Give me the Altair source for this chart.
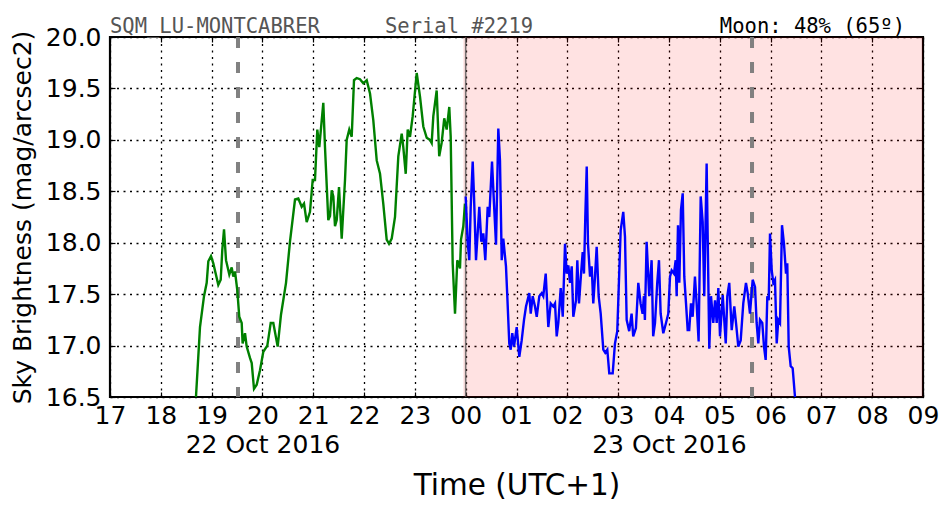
import altair as alt
import pandas as pd

# ---------------- data ----------------
GREEN_HOURS = [18.692, 18.771, 18.850, 18.903, 18.935, 18.988, 19.033, 19.131, 19.179, 19.210,
               19.244, 19.283, 19.348, 19.395, 19.426, 19.460, 19.505, 19.544, 19.592, 19.610,
               19.657, 19.690, 19.755, 19.789, 19.834, 19.887, 19.952, 20.017, 20.096, 20.163,
               20.214, 20.300, 20.365, 20.464, 20.542, 20.641, 20.706, 20.773, 20.818, 20.871,
               20.936, 20.989, 21.034, 21.080, 21.119, 21.198, 21.231, 21.296, 21.330, 21.363,
               21.395, 21.428, 21.462, 21.507, 21.560, 21.625, 21.658, 21.709, 21.757, 21.802,
               21.855, 21.920, 21.985, 22.052, 22.117, 22.182, 22.249, 22.314, 22.378, 22.445,
               22.491, 22.544, 22.609, 22.674, 22.741, 22.772, 22.820, 22.859, 22.904, 22.957,
               23.036, 23.101, 23.166, 23.233, 23.298, 23.331, 23.363, 23.429, 23.479, 23.527,
               23.578, 23.626, 23.677, 23.705, 23.744, 23.790, 23.835, 23.888, 23.908, 23.953,
               23.986]
GREEN_SKY = [16.50, 17.18, 17.48, 17.61, 17.82, 17.87, 17.80, 17.59, 17.64, 17.93,
             18.13, 17.83, 17.69, 17.76, 17.67, 17.72, 17.54, 17.28, 17.22, 17.02,
             17.12, 16.99, 16.88, 16.83, 16.58, 16.62, 16.76, 16.94, 17.00, 17.22,
             17.22, 16.99, 17.30, 17.61, 18.01, 18.42, 18.43, 18.35, 18.38, 18.20,
             18.30, 18.61, 18.61, 19.10, 18.93, 19.36, 18.93, 18.22, 18.26, 18.51,
             18.45, 18.16, 18.22, 18.54, 18.04, 18.61, 19.00, 19.10, 19.03, 19.58,
             19.60, 19.59, 19.55, 19.58, 19.45, 19.19, 18.80, 18.67, 18.38, 18.03,
             17.99, 18.04, 18.25, 18.84, 19.06, 18.93, 18.67, 19.10, 19.03, 19.23,
             19.65, 19.42, 19.13, 19.02, 19.00, 18.97, 19.23, 19.48, 18.84, 18.97,
             19.21, 19.10, 19.32, 19.03, 17.80, 17.31, 17.83, 17.75, 18.03, 18.16,
             18.38]

BLUE_HOURS = [24.000, 24.040, 24.071, 24.099, 24.138, 24.164, 24.203, 24.268, 24.307, 24.347,
              24.386, 24.433, 24.464, 24.518, 24.557, 24.597, 24.642, 24.675, 24.709, 24.740,
              24.793, 24.819, 24.858, 24.886, 24.917, 24.951, 25.004, 25.055, 25.102, 25.148,
              25.187, 25.252, 25.280, 25.319, 25.364, 25.398, 25.449, 25.496, 25.527, 25.575,
              25.626, 25.673, 25.724, 25.758, 25.791, 25.823, 25.870, 25.910, 25.955, 25.988,
              26.020, 26.053, 26.087, 26.118, 26.171, 26.197, 26.230, 26.275, 26.303, 26.328,
              26.354, 26.382, 26.407, 26.447, 26.480, 26.511, 26.545, 26.578, 26.617, 26.657,
              26.708, 26.747, 26.787, 26.826, 26.893, 26.938, 26.983, 27.050, 27.101, 27.135,
              27.168, 27.218, 27.265, 27.297, 27.350, 27.397, 27.442, 27.482, 27.507, 27.527,
              27.561, 27.612, 27.659, 27.690, 27.726, 27.770, 27.804, 27.837, 27.889, 27.942,
              27.987, 28.021, 28.054, 28.099, 28.133, 28.152, 28.178, 28.204, 28.237, 28.271,
              28.302, 28.336, 28.369, 28.399, 28.434, 28.467, 28.512, 28.545, 28.584, 28.625,
              28.664, 28.695, 28.742, 28.794, 28.828, 28.873, 28.907, 28.940, 28.972, 29.005,
              29.058, 29.118, 29.149, 29.187, 29.235, 29.286, 29.320, 29.365, 29.412, 29.463,
              29.516, 29.550, 29.595, 29.648, 29.694, 29.726, 29.759, 29.792, 29.837, 29.871,
              29.904, 29.936, 29.964, 29.989, 30.023, 30.054, 30.087, 30.121, 30.152, 30.186,
              30.225, 30.264, 30.304, 30.329, 30.357, 30.396, 30.435, 30.481]
BLUE_SKY = [18.45, 18.00, 17.83, 18.35, 18.79, 18.45, 17.83, 18.35, 18.01, 18.09,
            17.83, 18.35, 18.25, 18.79, 18.38, 17.98, 19.11, 18.80, 17.83, 18.04,
            17.77, 17.48, 17.02, 16.96, 17.12, 16.99, 17.18, 16.89, 17.05, 17.25,
            17.38, 17.51, 17.31, 17.48, 17.38, 17.28, 17.48, 17.51, 17.48, 17.70,
            17.18, 17.41, 17.38, 17.41, 17.09, 17.22, 17.56, 17.28, 17.99, 17.70,
            17.78, 17.61, 17.77, 17.28, 17.44, 17.83, 17.41, 17.73, 17.91, 17.70,
            18.25, 18.74, 17.99, 17.67, 17.77, 17.41, 17.67, 17.96, 17.48, 17.31,
            16.96, 16.93, 16.96, 16.73, 16.73, 17.02, 17.14, 18.12, 18.30, 18.06,
            17.25, 17.14, 17.31, 17.09, 17.17, 17.61, 17.41, 17.31, 17.48, 17.25,
            18.01, 17.48, 17.83, 17.09, 17.22, 17.61, 17.83, 17.31, 17.12, 17.22,
            17.31, 17.67, 17.73, 17.70, 17.83, 17.48, 18.17, 17.61, 18.32, 18.48,
            17.67, 17.41, 17.15, 17.15, 17.41, 17.28, 17.67, 17.41, 17.04, 18.45,
            18.20, 17.48, 18.77, 16.97, 17.48, 17.22, 17.44, 17.22, 17.56, 17.09,
            17.49, 17.02, 17.48, 17.61, 17.15, 17.38, 17.22, 16.99, 17.05, 17.41,
            17.61, 17.51, 17.31, 17.64, 17.57, 17.22, 17.02, 17.25, 17.22, 16.99,
            16.86, 17.48, 17.44, 18.09, 17.73, 17.61, 17.64, 17.02, 17.25, 17.22,
            18.17, 17.99, 17.70, 17.80, 16.99, 16.80, 16.78, 16.50]

X_TICKS = list(range(17, 34))
Y_TICKS = [16.5, 17.0, 17.5, 18.0, 18.5, 19.0, 19.5, 20.0]
DATE_HOURS = [20, 28]
DATE_TEXTS = ["22 Oct 2016", "23 Oct 2016"]
NIGHT_START = [23.953]
NIGHT_END = [33.0]
MIDNIGHT = [24.0]
MOON_HOURS = [19.519, 29.635]
HEADER_LEFT = ["SQM_LU-MONTCABRER"]
HEADER_MID = ["Serial #2219"]
HEADER_RIGHT = ["Moon: 48% (65º)"]
X_TITLE = "Time (UTC+1)"
Y_TITLE = "Sky Brightness (mag/arcsec2)"

# ---------------- chart ----------------
FONT = "DejaVu Sans"
MONO = "DejaVu Sans Mono"
W, H = 813, 360

green_df = pd.DataFrame({"hour": GREEN_HOURS, "sky": GREEN_SKY})
blue_df = pd.DataFrame({"hour": BLUE_HOURS, "sky": BLUE_SKY})
night_df = pd.DataFrame({"start": NIGHT_START, "end": NIGHT_END})
mid_df = pd.DataFrame({"hour": MIDNIGHT})
moon_df = pd.DataFrame({"hour": MOON_HOURS})

xscale = alt.Scale(domain=[17, 33], nice=False, zero=False)
yscale = alt.Scale(domain=[16.5, 20.0], nice=False, zero=False)

hour_lbl = "((datum.value % 24) < 10 ? '0' : '') + (datum.value % 24)"
label_expr = hour_lbl
for h, t in reversed(list(zip(DATE_HOURS, DATE_TEXTS))):
    label_expr = f"datum.value == {h} ? [{hour_lbl}, '{t}'] : ({label_expr})"

TICK = 5
bottom_axis = alt.Axis(
    orient="bottom", values=X_TICKS, labelExpr=label_expr, labelFont=FONT, labelFontSize=25,
    labelColor="black", labelPadding=6, labelLineHeight=29.5, labelOverlap=False, labelFlush=False,
    labelBound=False, offset=-TICK, tickSize=TICK, tickColor="black", tickWidth=1.2, domain=False,
    grid=True, gridColor="black", gridDash=[2, 4.5], gridWidth=1.3, gridOpacity=1,
    title=X_TITLE, titleFont=FONT, titleFontSize=29.5, titleFontWeight="normal",
    titleColor="black", titlePadding=14,
)
left_axis = alt.Axis(
    orient="left", values=Y_TICKS, format=".1f", labelFont=FONT, labelFontSize=25,
    labelColor="black", labelPadding=9, labelFlush=False, labelOverlap=False,
    offset=-TICK, tickSize=TICK, tickColor="black", tickWidth=1.2, domain=False,
    grid=True, gridColor="black", gridDash=[2, 4.5], gridWidth=1.3, gridOpacity=1,
    title=Y_TITLE, titleFont=FONT, titleFontSize=25, titleFontWeight="normal",
    titleColor="black", titlePadding=10,
)
top_axis = alt.Axis(orient="top", values=X_TICKS, labels=False, offset=-TICK, tickSize=TICK,
                    tickColor="black", tickWidth=1.2, domain=False, grid=False, title=None)
right_axis = alt.Axis(orient="right", values=Y_TICKS, labels=False, offset=-TICK, tickSize=TICK,
                      tickColor="black", tickWidth=1.2, domain=False, grid=False, title=None)

night = alt.Chart(night_df).mark_rect(color="#ff0000", opacity=0.115).encode(
    x=alt.X("start:Q", scale=xscale, axis=None), x2="end:Q")
midnight = alt.Chart(mid_df).mark_rule(color="#555555", strokeWidth=1.6, opacity=0.8).encode(
    x=alt.X("hour:Q", scale=xscale, axis=None))
moon = alt.Chart(moon_df).mark_rule(color="#7a7a7a", strokeWidth=4, strokeDash=[11, 14],
                                    opacity=0.95).encode(
    x=alt.X("hour:Q", scale=xscale, axis=None))

green = alt.Chart(green_df).mark_line(color="#008000", strokeWidth=2.4, clip=True).encode(
    x=alt.X("hour:Q", scale=xscale, axis=bottom_axis),
    y=alt.Y("sky:Q", scale=yscale, axis=left_axis),
    order="hour:Q")
blue = alt.Chart(blue_df).mark_line(color="#0000ff", strokeWidth=2.4, clip=True).encode(
    x=alt.X("hour:Q", scale=xscale, axis=top_axis),
    y=alt.Y("sky:Q", scale=yscale, axis=right_axis),
    order="hour:Q")

hdr_left = alt.Chart(pd.DataFrame({"t": HEADER_LEFT})).mark_text(
    font=MONO, fontSize=20.5, color="#555555", align="left", baseline="alphabetic").encode(
    text="t:N", x=alt.value(0), y=alt.value(-4))
hdr_mid = alt.Chart(pd.DataFrame({"t": HEADER_MID})).mark_text(
    font=MONO, fontSize=20.5, color="#555555", align="left", baseline="alphabetic").encode(
    text="t:N", x=alt.value(275), y=alt.value(-4))
hdr_right = alt.Chart(pd.DataFrame({"t": HEADER_RIGHT})).mark_text(
    font=MONO, fontSize=20.5, color="black", align="right", baseline="alphabetic").encode(
    text="t:N", x=alt.value(795), y=alt.value(-4))

chart = alt.layer(night, midnight, moon, green, blue, hdr_left, hdr_mid, hdr_right).properties(
    width=W, height=H,
    padding={"left": 110, "top": 37, "right": 29, "bottom": 115},
    autosize=alt.AutoSizeParams(type="none"),
    background="white",
).configure_view(stroke="black", strokeWidth=2.2)

chart.save("out.html", embed_options={"renderer": "svg", "actions": False})
